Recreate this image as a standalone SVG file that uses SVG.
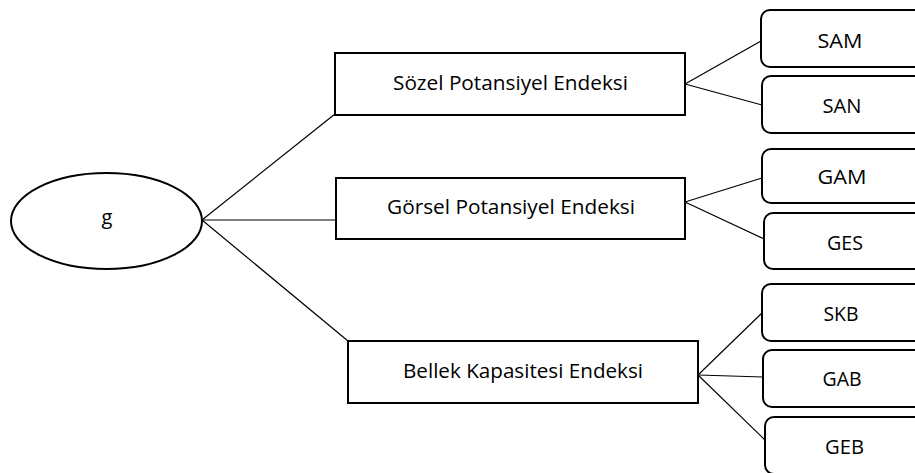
<svg xmlns="http://www.w3.org/2000/svg" width="915" height="473" viewBox="0 0 915 473">
<style>
.n{fill:#fff;stroke:#000;stroke-width:2}
.c line{stroke:#000;stroke-width:1.2}
text{font-family:"Open Sans","Noto Sans","Liberation Sans",sans-serif;font-size:20px;fill:#000;text-anchor:middle;dominant-baseline:central}
</style>
<rect width="915" height="473" fill="#fff"/>
<g class="c" id="connectors">
<line x1="202" y1="220" x2="335" y2="114"/>
<line x1="202" y1="220" x2="336" y2="220"/>
<line x1="202" y1="220" x2="348" y2="341"/>
<line x1="685" y1="84" x2="761" y2="41"/>
<line x1="685" y1="84" x2="762" y2="105"/>
<line x1="685" y1="202" x2="762" y2="178"/>
<line x1="685" y1="202" x2="764" y2="239"/>
<line x1="698" y1="375" x2="762" y2="313"/>
<line x1="698" y1="375" x2="763" y2="377"/>
<line x1="698" y1="375" x2="765" y2="440"/>
</g>
<g id="g"><ellipse class="n" cx="106.5" cy="221" rx="95.5" ry="48"/><text x="107" y="216">g</text></g>
<g id="sozel"><rect class="n" x="335" y="53" width="350" height="62"/><text x="510.5" y="82" textLength="235" lengthAdjust="spacingAndGlyphs">Sözel Potansiyel Endeksi</text></g>
<g id="gorsel"><rect class="n" x="336" y="178" width="349" height="61"/><text x="511" y="206" textLength="248" lengthAdjust="spacingAndGlyphs">Görsel Potansiyel Endeksi</text></g>
<g id="bellek"><rect class="n" x="348" y="341" width="350" height="62"/><text x="523" y="370" textLength="240" lengthAdjust="spacingAndGlyphs">Bellek Kapasitesi Endeksi</text></g>
<g id="sam"><rect class="n" x="761" y="10" width="175" height="57" rx="9"/><text x="840" y="40" textLength="45" lengthAdjust="spacingAndGlyphs">SAM</text></g>
<g id="san"><rect class="n" x="762" y="76" width="175" height="57" rx="9"/><text x="842" y="105" textLength="39" lengthAdjust="spacingAndGlyphs">SAN</text></g>
<g id="gam"><rect class="n" x="762" y="149" width="175" height="54" rx="9"/><text x="842" y="176" textLength="49" lengthAdjust="spacingAndGlyphs">GAM</text></g>
<g id="ges"><rect class="n" x="764" y="213" width="175" height="56" rx="9"/><text x="845" y="242" textLength="36" lengthAdjust="spacingAndGlyphs">GES</text></g>
<g id="skb"><rect class="n" x="762" y="284" width="175" height="57" rx="9"/><text x="841" y="313" textLength="35" lengthAdjust="spacingAndGlyphs">SKB</text></g>
<g id="gab"><rect class="n" x="763" y="350" width="175" height="57" rx="9"/><text x="842" y="378" textLength="39" lengthAdjust="spacingAndGlyphs">GAB</text></g>
<g id="geb"><rect class="n" x="765" y="417" width="175" height="57" rx="9"/><text x="844.5" y="446" textLength="39" lengthAdjust="spacingAndGlyphs">GEB</text></g>
</svg>
